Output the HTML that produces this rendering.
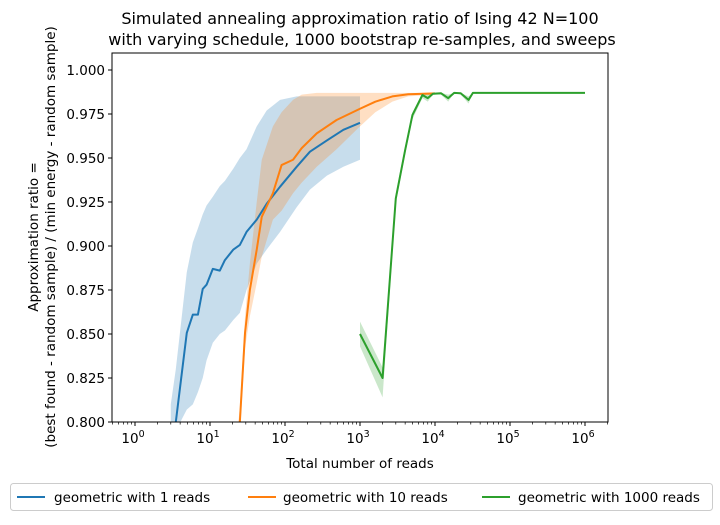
<!DOCTYPE html>
<html><head><meta charset="utf-8"><style>
body{margin:0;background:#fff;}
svg{font-family:"DejaVu Sans","Liberation Sans",sans-serif;}
</style></head><body>
<svg id="chart" width="720" height="520" viewBox="0 0 720 520" xmlns="http://www.w3.org/2000/svg">
<defs><clipPath id="plotclip"><rect x="112" y="53" width="496" height="369"/></clipPath></defs>
<rect width="720" height="520" fill="#fff"/>
<text x="360" y="24" text-anchor="middle" font-size="16">Simulated annealing approximation ratio of Ising 42 N=100</text>
<text x="362" y="45" text-anchor="middle" font-size="16">with varying schedule, 1000 bootstrap re-samples, and sweeps</text>
<g id="bands" clip-path="url(#plotclip)"></g>
<g id="lines" clip-path="url(#plotclip)"></g>
<g id="axes"></g>
<rect x="112" y="53" width="496" height="369" fill="none" stroke="#000" stroke-width="1"/>
<text x="360" y="468" text-anchor="middle" font-size="13.5">Total number of reads</text>
<g transform="translate(38,237) rotate(-90)">
<text x="0" y="0" text-anchor="middle" font-size="13.5">Approximation ratio =</text>
<text x="0" y="17" text-anchor="middle" font-size="13.5">(best found - random sample) / (min energy - random sample)</text>
</g>
<g>
<rect x="10.5" y="483.5" width="702" height="27" rx="3" fill="#fff" stroke="#ccc"/>
<g><line x1="17" y1="497" x2="45" y2="497" stroke="#1f77b4" stroke-width="2"/><text x="54" y="502" font-size="13.5">geometric with 1 reads</text></g>
<g><line x1="248" y1="497" x2="276" y2="497" stroke="#ff7f0e" stroke-width="2"/><text x="283" y="502" font-size="13.5">geometric with 10 reads</text></g>
<g><line x1="482" y1="497" x2="510" y2="497" stroke="#2ca02c" stroke-width="2"/><text x="518" y="502" font-size="13.5">geometric with 1000 reads</text></g>
</g>
</svg>
<script>
const yTicks = [0.800,0.825,0.850,0.875,0.900,0.925,0.950,0.975,1.000];
const xTickExps = [0,1,2,3,4,5,6];
const blueX = [3,3.5,4.9,5.9,6.9,8,9,10.9,13.5,15.8,20.5,25,30.7,42,57,86,143,215,362,600,1000];
const blueY = [0.78,0.80,0.8506,0.861,0.861,0.8756,0.878,0.887,0.886,0.892,0.898,0.9006,0.908,0.915,0.924,0.9337,0.945,0.9536,0.960,0.966,0.970];
const blueHi = [0.81,0.83,0.885,0.902,0.91,0.918,0.923,0.928,0.934,0.937,0.944,0.950,0.955,0.968,0.977,0.983,0.985,0.985,0.985,0.985,0.985];
const blueLo = [0.79,0.795,0.807,0.810,0.817,0.825,0.835,0.845,0.850,0.852,0.858,0.862,0.875,0.890,0.898,0.908,0.922,0.932,0.940,0.945,0.949];
const orangeX = [22,25,29.3,34,42,49,69,90,128,167,265,487,1000,1600,2700,4400,10000];
const orangeY = [0.78,0.80,0.8506,0.875,0.898,0.9166,0.930,0.946,0.949,0.9556,0.964,0.9716,0.978,0.982,0.985,0.9862,0.9867];
const orangeHi = [0.786,0.808,0.86,0.89,0.925,0.949,0.968,0.976,0.983,0.986,0.987,0.987,0.987,0.987,0.987,0.987,0.987];
const orangeLo = [0.774,0.792,0.842,0.86,0.879,0.894,0.915,0.920,0.93,0.936,0.945,0.955,0.968,0.976,0.982,0.985,0.986];
const greenX = [1000,2000,3000,4000,5000,6800,8000,9400,12000,15000,18000,22000,28000,32000,50000,1000000];
const greenY = [0.850,0.825,0.927,0.9545,0.9744,0.9858,0.984,0.9865,0.9868,0.984,0.987,0.9868,0.983,0.987,0.987,0.987];
const greenHi = [0.857,0.831,0.930,0.957,0.976,0.987,0.986,0.987,0.987,0.986,0.987,0.987,0.985,0.987,0.987,0.987];
const greenLo = [0.843,0.814,0.924,0.952,0.972,0.984,0.982,0.986,0.986,0.982,0.987,0.986,0.981,0.987,0.987,0.987];

const NS = "http://www.w3.org/2000/svg";
function xs(v){ return 135 + 75*Math.log10(v); }
function ys(v){ return 422 - (v-0.8)*1760; }
const bands = document.getElementById('bands');
const lines = document.getElementById('lines');
const axes = document.getElementById('axes');

function drawSeries(X, Y, LO, HI, color, name){
  let pts = X.map((x,i)=>xs(x)+','+ys(HI[i]));
  for(let i=X.length-1;i>=0;i--) pts.push(xs(X[i])+','+ys(LO[i]));
  const poly = document.createElementNS(NS,'polygon');
  poly.setAttribute('points', pts.join(' '));
  poly.setAttribute('fill', color);
  poly.setAttribute('fill-opacity', '0.25');
  
  
  bands.appendChild(poly);
  const pl = document.createElementNS(NS,'polyline');
  pl.setAttribute('points', X.map((x,i)=>xs(x)+','+ys(Y[i])).join(' '));
  pl.setAttribute('fill','none');
  pl.setAttribute('stroke', color);
  pl.setAttribute('stroke-width','2');
  pl.setAttribute('stroke-linejoin','round');
  
  
  lines.appendChild(pl);
}
drawSeries(blueX, blueY, blueLo, blueHi, '#1f77b4', 'geometric-1-reads');
drawSeries(orangeX, orangeY, orangeLo, orangeHi, '#ff7f0e', 'geometric-10-reads');
drawSeries(greenX, greenY, greenLo, greenHi, '#2ca02c', 'geometric-1000-reads');

yTicks.forEach(v=>{
  const y = ys(v);
  const t = document.createElementNS(NS,'line');
  t.setAttribute('x1',108); t.setAttribute('x2',112); t.setAttribute('y1',y); t.setAttribute('y2',y);
  t.setAttribute('stroke','#000');
  
  
  axes.appendChild(t);
  const l = document.createElementNS(NS,'text');
  l.setAttribute('x',105); l.setAttribute('y',y+5); l.setAttribute('text-anchor','end'); l.setAttribute('font-size','13.5');
  l.textContent = v.toFixed(3);
  
  
  axes.appendChild(l);
});
for(let e=-1;e<=6;e++){
  for(let m=2;m<=9;m++){
    const x = xs(m*Math.pow(10,e));
    if(x<112||x>608) continue;
    const t = document.createElementNS(NS,'line');
    t.setAttribute('x1',x); t.setAttribute('x2',x); t.setAttribute('y1',422); t.setAttribute('y2',424.5);
    t.setAttribute('stroke','#000'); t.setAttribute('stroke-width','0.7');
    
    
    axes.appendChild(t);
  }
}
xTickExps.forEach(e=>{
  const x = xs(Math.pow(10,e));
  const t = document.createElementNS(NS,'line');
  t.setAttribute('x1',x); t.setAttribute('x2',x); t.setAttribute('y1',422); t.setAttribute('y2',426);
  t.setAttribute('stroke','#000');
  
  
  axes.appendChild(t);
  const l = document.createElementNS(NS,'text');
  l.setAttribute('x',x-2); l.setAttribute('y',443); l.setAttribute('text-anchor','middle'); l.setAttribute('font-size','13.5');
  l.innerHTML = '10<tspan dy="-6" font-size="9.5">'+e+'</tspan>';
  
  
  axes.appendChild(l);
});
</script>
</body></html>
